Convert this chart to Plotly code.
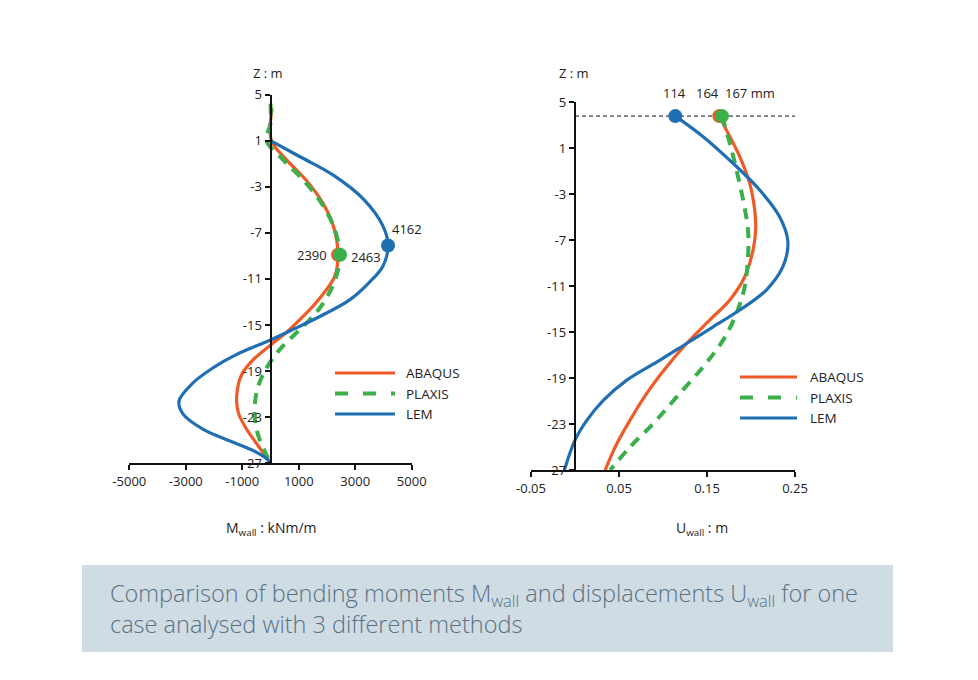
import plotly.graph_objects as go

# ---------------- data ----------------
Z_TOP = 3.8

# Bending moment M_wall (kNm/m) vs depth Z (m)
abaqus_m_z = [3.8, 1.0, -0.67, -2.4, -4.4, -6.45, -8.9, -10.8, -12.8, -14.24, -15.5, -16.75, -18.0, -19.3, -21.16, -22.6, -24.05, -25.5, -26.5, -27.0]
abaqus_m = [60, 30, 570, 1250, 1850, 2230, 2390, 2270, 1700, 1161, 630, 0, -609, -1020, -1197, -1140, -843, -432, -135, 0]

plaxis_m_z = [4.2, 2.5, 1.0, -0.67, -2.4, -4.4, -6.45, -8.9, -11.0, -13.1, -14.5, -15.65, -17.1, -18.7, -20.3, -21.7, -23.2, -24.6, -26.0, -27.0]
plaxis_m = [0, 0, -140, 450, 1150, 1800, 2230, 2463, 2300, 1870, 1399, 928, 336, -135, -432, -549, -549, -432, -195, 0]

lem_m_z = [1.0, -0.4, -2.0, -4.1, -6.4, -8.1, -9.9, -11.3, -12.8, -14.2, -15.5, -16.3, -17.55, -18.7, -20.0, -21.6, -22.75, -24.05, -25.06, -25.9, -26.6, -27.0]
lem_m = [0, 1045, 2224, 3300, 3980, 4162, 3980, 3500, 2815, 1800, 700, 0, -1197, -2025, -2734, -3240, -3088, -2380, -1434, -609, -135, 0]

# Peak moments marked with dots
peak_m_names = ["ABAQUS", "PLAXIS", "LEM"]
peak_m_vals = [2390, 2463, 4162]
peak_m_z = [-8.9, -8.9, -8.1]

# Displacement U_wall (m) vs depth Z (m)
abaqus_u_z = [3.8, 2.59, 0.27, -2.05, -4.37, -6.12, -7.86, -10.18, -12.2, -13.94, -15.99, -18.02, -20.34, -22.66, -24.7, -27.0]
abaqus_u = [0.164, 0.172, 0.1872, 0.1985, 0.2042, 0.2053, 0.2023, 0.1929, 0.1759, 0.1532, 0.1268, 0.1042, 0.0815, 0.0626, 0.0476, 0.0343]

plaxis_u_z = [3.8, 1.44, -0.89, -3.5, -6.12, -8.44, -11.05, -13.37, -15.7, -18.02, -20.64, -22.96, -24.99, -27.0]
plaxis_u = [0.167, 0.1759, 0.1835, 0.191, 0.1966, 0.1966, 0.1929, 0.1835, 0.1683, 0.1456, 0.1155, 0.089, 0.0626, 0.040]

lem_u_z = [3.8, 2.01, -0.31, -2.63, -4.96, -7.13, -9.31, -11.34, -13.08, -14.54, -15.99, -17.44, -19.18, -20.92, -22.66, -24.4, -27.0]
lem_u = [0.114, 0.1456, 0.1796, 0.2099, 0.2325, 0.2419, 0.2362, 0.2174, 0.1872, 0.157, 0.1268, 0.0966, 0.0589, 0.0324, 0.0136, 0.0, -0.012]

# Top displacements marked with dots
top_u_names = ["ABAQUS", "PLAXIS", "LEM"]
top_u_vals = [0.164, 0.167, 0.114]

# Axis ticks
z_ticks = [5, 1, -3, -7, -11, -15, -19, -23, -27]
z_ticklabels = ["5", "1", "-3", "-7", "-11", "-15", "-19", "-23", "-27"]
m_ticks = [-5000, -3000, -1000, 1000, 3000, 5000]
m_ticklabels = ["-5000", "-3000", "-1000", "1000", "3000", "5000"]
u_ticks = [-0.05, 0.05, 0.15, 0.25]
u_ticklabels = ["-0.05", "0.05", "0.15", "0.25"]

# Caption lines
caption_lines = ["Comparison of bending moments M<sub>wall</sub> and displacements U<sub>wall</sub> for one",
                 "case analysed with 3 different methods"]

# ---------------- styling ----------------
W, H = 978, 680
OFF = 8  # page body margin
COL = {"ABAQUS": "#EF5B27", "PLAXIS": "#3BB04A", "LEM": "#1F6FB2"}
FONT = "Open Sans"
TXT = "#222222"


def px(x):
    return (x - OFF) / W


def py(y):
    return 1 - (y - OFF) / H


fig = go.Figure()

# left panel (moments)
series_m = [("ABAQUS", abaqus_m, abaqus_m_z), ("PLAXIS", plaxis_m, plaxis_m_z), ("LEM", lem_m, lem_m_z)]
for name, xs, zs in series_m:
    fig.add_trace(go.Scatter(
        x=xs, y=zs, mode="lines", name=name, xaxis="x", yaxis="y",
        line=dict(color=COL[name], width=4 if name == "PLAXIS" else 3.2, shape="spline", smoothing=1.0,
                  dash="11px,8px" if name == "PLAXIS" else "solid"),
        showlegend=False))

# right panel (displacements)
series_u = [("ABAQUS", abaqus_u, abaqus_u_z), ("PLAXIS", plaxis_u, plaxis_u_z), ("LEM", lem_u, lem_u_z)]
for name, xs, zs in series_u:
    fig.add_trace(go.Scatter(
        x=xs, y=zs, mode="lines", name=name, xaxis="x2", yaxis="y2",
        line=dict(color=COL[name], width=4 if name == "PLAXIS" else 3.2, shape="spline", smoothing=1.0,
                  dash="11px,8px" if name == "PLAXIS" else "solid"),
        showlegend=False))

# peak dots (left)
fig.add_trace(go.Scatter(
    x=peak_m_vals, y=peak_m_z, mode="markers", xaxis="x", yaxis="y",
    marker=dict(size=14, color=[COL[n] for n in peak_m_names]), showlegend=False, cliponaxis=False))
# top dots (right)
fig.add_trace(go.Scatter(
    x=top_u_vals, y=[Z_TOP] * len(top_u_vals), mode="markers", xaxis="x2", yaxis="y2",
    marker=dict(size=14, color=[COL[n] for n in top_u_names]), showlegend=False, cliponaxis=False))

annotations = []
# labels for peak moments
m_label_style = {"ABAQUS": dict(xanchor="right", xshift=-9, yshift=0),
                 "PLAXIS": dict(xanchor="left", xshift=9, yshift=-2),
                 "LEM": dict(xanchor="left", xshift=2, yshift=16)}
for n, v, z in zip(peak_m_names, peak_m_vals, peak_m_z):
    annotations.append(dict(x=v, y=z, xref="x", yref="y", text=f"{v}", showarrow=False, yanchor="middle",
                            font=dict(family=FONT, size=13, color=TXT), **m_label_style[n]))
# labels for top displacements
u_label_style = {"LEM": dict(xanchor="center", xshift=-1, text_suffix=""),
                 "ABAQUS": dict(xanchor="center", xshift=-12, text_suffix=""),
                 "PLAXIS": dict(xanchor="left", xshift=1, text_suffix=" mm")}
for n, v in zip(top_u_names, top_u_vals):
    st = u_label_style[n]
    annotations.append(dict(x=v, y=Z_TOP, xref="x2", yref="y2", text=f"{v * 1000:.0f}{st['text_suffix']}",
                            showarrow=False, xanchor=st["xanchor"], xshift=st["xshift"], yshift=23,
                            yanchor="middle", font=dict(family=FONT, size=13, color=TXT)))

# axis titles
for tx, ty, text, size in [(268, 73, "Z : m", 13), (574, 73, "Z : m", 13),
                           (271, 528, "M<sub>wall</sub> : kNm/m", 14), (702, 528, "U<sub>wall</sub> : m", 14)]:
    annotations.append(dict(x=px(tx), y=py(ty), xref="paper", yref="paper", text=text, showarrow=False,
                            xanchor="center", yanchor="middle", font=dict(family=FONT, size=size, color=TXT)))

# custom legends
shapes = []
legend_rows = [("ABAQUS", 0), ("PLAXIS", 1), ("LEM", 2)]
for (lx0, lx1, tx, y0) in [(335, 395, 404, 373), (740, 797, 808, 377)]:
    for name, i in legend_rows:
        yy = y0 + i * 20.5
        shapes.append(dict(type="line", xref="paper", yref="paper", x0=px(lx0), x1=px(lx1), y0=py(yy), y1=py(yy),
                           line=dict(color=COL[name], width=4 if name == "PLAXIS" else 3.2,
                                     dash="13px,15px" if name == "PLAXIS" else "solid")))
        annotations.append(dict(x=px(tx), y=py(yy), xref="paper", yref="paper", text=name, showarrow=False,
                                xanchor="left", yanchor="middle", font=dict(family=FONT, size=13.5, color=TXT)))

# dashed line at wall top (right panel)
shapes.append(dict(type="line", xref="x2", yref="y2", x0=0, x1=0.25, y0=Z_TOP, y1=Z_TOP,
                   line=dict(color="#111111", width=1, dash="4px,3px"), layer="below"))

# caption box
shapes.append(dict(type="rect", xref="paper", yref="paper", x0=px(82), x1=px(893), y0=py(652), y1=py(565),
                   fillcolor="#D0DCE4", line=dict(width=0), layer="below"))
annotations.append(dict(x=px(108), y=py(575), xref="paper", yref="paper", xanchor="left", yanchor="top",
                        align="left", showarrow=False, text="<br>".join(caption_lines),
                        font=dict(family=FONT, size=23.5, color="#5A7183", weight=300)))

axis_common = dict(showgrid=False, zeroline=False, showline=True, linecolor="#111111", linewidth=2,
                   ticks="outside", ticklen=5, tickwidth=1.5, tickcolor="#111111", automargin=False,
                   tickfont=dict(family=FONT, size=13, color=TXT))

fig.update_layout(
    width=W, height=H, autosize=False,
    margin=dict(l=0, r=0, t=0, b=0, pad=0, autoexpand=False),
    paper_bgcolor="white", plot_bgcolor="rgba(0,0,0,0)",
    showlegend=False,
    xaxis=dict(domain=[px(129.3), px(411.7)], range=[-5000, 5000], tickvals=m_ticks, ticktext=m_ticklabels,
               anchor="y", **axis_common),
    yaxis=dict(domain=[py(463.3), py(94.5)], range=[-27, 5], tickvals=z_ticks, ticktext=z_ticklabels,
               anchor="free", position=px(270.5), **axis_common),
    xaxis2=dict(domain=[px(531), px(795)], range=[-0.05, 0.25], tickvals=u_ticks, ticktext=u_ticklabels,
                anchor="y2", **axis_common),
    yaxis2=dict(domain=[py(470), py(102.3)], range=[-27, 5], tickvals=z_ticks, ticktext=z_ticklabels,
                anchor="free", position=px(574.7), **axis_common),
    shapes=shapes,
    annotations=annotations,
)

fig.write_html("out.html")
